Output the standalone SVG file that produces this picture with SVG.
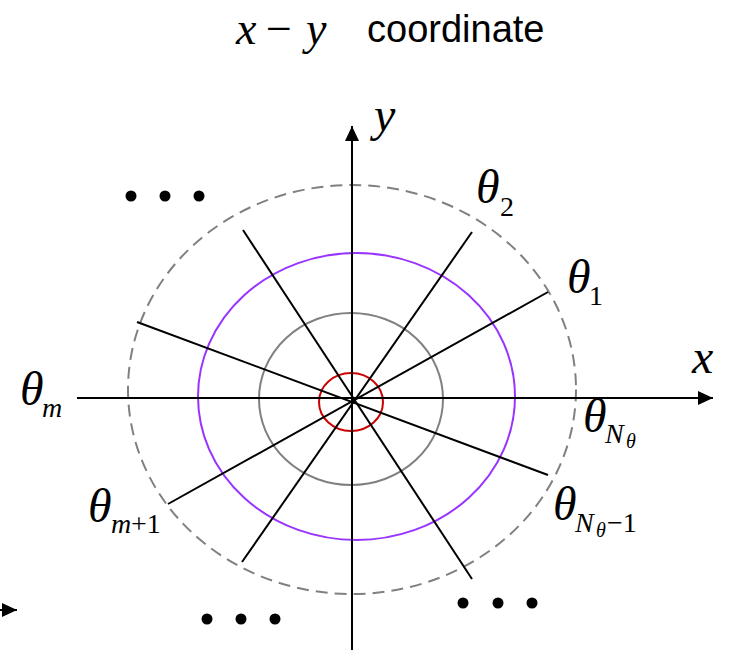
<svg xmlns="http://www.w3.org/2000/svg" width="730" height="654" viewBox="0 0 730 654">
<style>
.m{font-family:"Liberation Serif","Times New Roman",serif;font-style:italic;fill:#000}
.u{font-family:"Liberation Serif","Times New Roman",serif;fill:#000}
.s{font-family:"Liberation Sans",Arial,sans-serif;fill:#000}
.ln{stroke:#000;stroke-width:2;fill:none}
.dot{fill:#000}
</style>
<defs>
<marker id="ah" viewBox="0 0 10 10" refX="10" refY="5" markerWidth="15" markerHeight="14" markerUnits="userSpaceOnUse" orient="auto" preserveAspectRatio="none">
<path d="M0,0 L10,5 L0,10 Z" fill="#000"/>
</marker>
</defs>
<rect width="730" height="654" fill="#fff"/>
<g id="title">
<text class="m" x="236" y="44" font-size="46">x</text>
<text class="u" x="266" y="44" font-size="46">−</text>
<text class="m" x="306" y="44" font-size="46">y</text>
<text class="s" x="367" y="42" font-size="38">coordinate</text>
</g>
<g id="circles">
<ellipse cx="352" cy="389.5" rx="224" ry="204.5" fill="none" stroke="#808080" stroke-width="2" stroke-dasharray="12,7"/>
<ellipse cx="356.5" cy="396.5" rx="158.5" ry="143.5" fill="none" stroke="#9933FF" stroke-width="2"/>
<ellipse cx="351" cy="399" rx="92" ry="86" fill="none" stroke="#808080" stroke-width="2"/>
<ellipse cx="351" cy="402" rx="32" ry="29" fill="none" stroke="#CC0000" stroke-width="2"/>
</g>
<g id="connectors">
<line class="ln" x1="77" y1="398" x2="713" y2="398" marker-end="url(#ah)"/>
<line class="ln" x1="352" y1="650" x2="352" y2="126" marker-end="url(#ah)"/>
<line class="ln" x1="168" y1="504" x2="548" y2="292"/>
<line class="ln" x1="242" y1="562" x2="472" y2="232"/>
<line class="ln" x1="243" y1="230" x2="472" y2="579"/>
<line class="ln" x1="137" y1="322" x2="548" y2="475"/>
<line class="ln" x1="0" y1="610" x2="17" y2="610" marker-end="url(#ah)"/>
</g>
<g id="axis-labels">
<text class="m" x="692" y="373" font-size="48">x</text>
<text class="m" x="374" y="131" font-size="48">y</text>
</g>
<g id="theta-labels">
<text class="m" x="476" y="203" font-size="48">θ</text>
<text class="u" x="500" y="216" font-size="28">2</text>
<text class="m" x="567" y="293" font-size="48">θ</text>
<text class="u" x="589" y="305" font-size="28">1</text>
<text class="m" x="20" y="405" font-size="48">θ</text>
<text class="m" x="42" y="417" font-size="28">m</text>
<text class="m" x="88" y="522" font-size="48">θ</text>
<text class="m" x="111" y="533" font-size="28">m</text>
<text class="u" x="131" y="533" font-size="28">+1</text>
<text class="m" x="583" y="432" font-size="48">θ</text>
<text class="m" x="605" y="443" font-size="28">N</text>
<text class="m" x="626" y="448" font-size="20">θ</text>
<text class="m" x="553" y="520" font-size="48">θ</text>
<text class="m" x="575" y="532" font-size="28">N</text>
<text class="m" x="596" y="537" font-size="20">θ</text>
<text class="u" x="607" y="532" font-size="28">−1</text>
</g>
<g id="ellipsis-dots">
<circle class="dot" cx="131" cy="196" r="5.5"/>
<circle class="dot" cx="165" cy="196" r="5.5"/>
<circle class="dot" cx="199" cy="196" r="5.5"/>
<circle class="dot" cx="207" cy="619" r="5.5"/>
<circle class="dot" cx="241" cy="619" r="5.5"/>
<circle class="dot" cx="275" cy="619" r="5.5"/>
<circle class="dot" cx="463" cy="603" r="5.5"/>
<circle class="dot" cx="498" cy="603" r="5.5"/>
<circle class="dot" cx="532" cy="603" r="5.5"/>
</g>
</svg>
